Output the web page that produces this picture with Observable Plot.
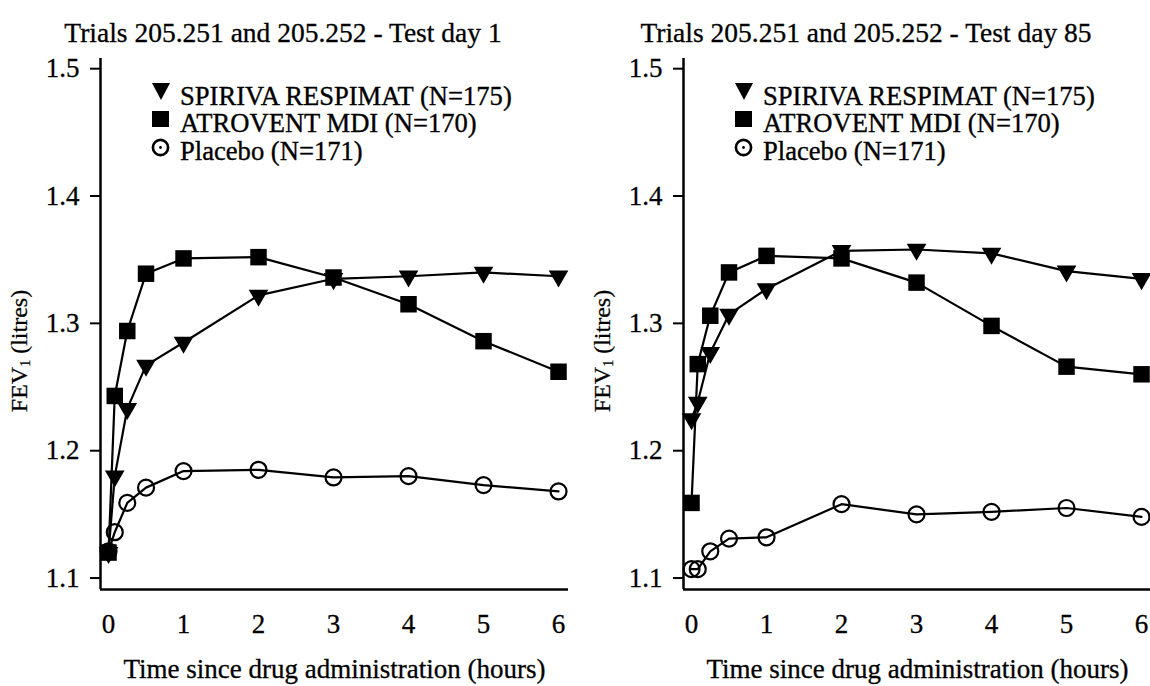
<!DOCTYPE html>
<html>
<head>
<meta charset="utf-8">
<script src="https://cdn.jsdelivr.net/npm/d3@7"></script>
<script src="https://cdn.jsdelivr.net/npm/@observablehq/plot@0.6"></script>
<style>
  html, body { margin: 0; padding: 0; background: #fff; }
  body { width: 1150px; height: 686px; overflow: hidden; position: relative;
         font-family: "Liberation Serif", "Times New Roman", serif; color: #000; }
  .panel { position: absolute; top: 0; width: 583px; height: 686px; }
  .title { position: absolute; top: 17px; left: 0; width: 566px; text-align: center;
           font-size: 27.5px; line-height: 32px; white-space: nowrap; -webkit-text-stroke: 0.3px #000; }
  .plot { position: absolute; top: 50px; left: 0; }
  .plot svg text { stroke: #000; stroke-width: 0.3px; }
  .ylab { position: absolute; left: 22px; top: 351px; transform: translate(-50%, -50%) rotate(-90deg);
          font-size: 24px; white-space: nowrap; line-height: 26px; -webkit-text-stroke: 0.25px #000; }
  .ylab sub { font-size: 14px; vertical-align: -3px; }
  .legrow { position: absolute; left: 150px; height: 24px; line-height: 24px; font-size: 26.6px; white-space: nowrap; -webkit-text-stroke: 0.35px #000; }
  .legrow svg { position: absolute; left: 0; top: -1px; }
  .legrow span { position: absolute; left: 30px; top: 0; line-height: 24px; }
</style>
</head>
<body>
<script>
// ---- data ----
const times = [0, 0.083, 0.25, 0.5, 1, 2, 3, 4, 5, 6];

const spirivaDay1  = [1.120, 1.180, 1.233, 1.267, 1.285, 1.322, 1.335, 1.337, 1.340, 1.337];
const atroventDay1 = [1.120, 1.243, 1.294, 1.339, 1.351, 1.352, 1.336, 1.315, 1.286, 1.262];
const placeboDay1  = [1.121, 1.136, 1.159, 1.171, 1.184, 1.185, 1.179, 1.180, 1.173, 1.168];

const spirivaDay85  = [1.225, 1.238, 1.277, 1.307, 1.327, 1.357, 1.358, 1.355, 1.341, 1.335];
const atroventDay85 = [1.159, 1.268, 1.306, 1.340, 1.353, 1.351, 1.332, 1.298, 1.266, 1.260];
const placeboDay85  = [1.107, 1.107, 1.121, 1.131, 1.132, 1.158, 1.150, 1.152, 1.155, 1.148];

const seriesNames = ["SPIRIVA RESPIMAT (N=175)", "ATROVENT MDI (N=170)", "Placebo (N=171)"];
const panelTitles = ["Trials 205.251 and 205.252 - Test day 1", "Trials 205.251 and 205.252 - Test day 85"];
const xTicks = [0, 1, 2, 3, 4, 5, 6];
const yTicks = [1.1, 1.2, 1.3, 1.4, 1.5];
const xLabel = "Time since drug administration (hours)";

const xDomain = [-0.107, 6.133];
const yDomain = [1.091, 1.508];

function rows(values) { return times.map((t, i) => ({t, v: values[i]})); }

function makePlot(spiriva, atrovent, placebo) {
  const S = rows(spiriva), A = rows(atrovent), P = rows(placebo);
  return Plot.plot({
    width: 583, height: 636,
    marginTop: 8, marginBottom: 97, marginLeft: 100, marginRight: 15,
    style: {fontFamily: "'Liberation Serif', 'Times New Roman', serif", fontSize: "27px", color: "black", background: "white", overflow: "visible"},
    x: {domain: xDomain, label: null},
    y: {domain: yDomain, label: null},
    marks: [
      Plot.axisY({ticks: yTicks, tickFormat: d => d.toFixed(1), tickSize: 10, tickPadding: 11, strokeWidth: 2, label: null, fontSize: 27}),
      Plot.axisX({ticks: xTicks, tickFormat: d => String(d), tickSize: 0, tickPadding: 24, fontSize: 27,
                  label: xLabel, labelAnchor: "center", labelOffset: 88, labelArrow: "none"}),
      Plot.ruleX([xDomain[0]], {stroke: "black", strokeWidth: 2.5}),
      Plot.ruleY([yDomain[0]], {stroke: "black", strokeWidth: 2.5}),
      Plot.line(P, {x: "t", y: "v", stroke: "black", strokeWidth: 2.2}),
      Plot.line(A, {x: "t", y: "v", stroke: "black", strokeWidth: 2.2}),
      Plot.line(S, {x: "t", y: "v", stroke: "black", strokeWidth: 2.2}),
      Plot.dot(P, {x: "t", y: "v", symbol: "circle", r: 8, fill: "none", stroke: "black", strokeWidth: 2.2}),
      Plot.dot(A, {x: "t", y: "v", symbol: "square", r: 9.3, fill: "black", stroke: "none"}),
      Plot.dot(S, {x: "t", y: "v", symbol: "triangle", rotate: 180, r: 7.3, fill: "black", stroke: "none"})
    ]
  });
}

const legendSymbols = [
  '<svg width="24" height="22"><polygon points="2,0 20,0 11,17" fill="black"/></svg>',
  '<svg width="24" height="22"><rect x="2" y="1" width="17" height="16" fill="black"/></svg>',
  '<svg width="24" height="22"><circle cx="10.5" cy="9.5" r="7.6" fill="none" stroke="black" stroke-width="2.6"/><circle cx="10.5" cy="9.5" r="1.4" fill="black"/></svg>'
];
const legendTops = [84, 111, 139];

const panelData = [
  [spirivaDay1, atroventDay1, placeboDay1],
  [spirivaDay85, atroventDay85, placeboDay85]
];

panelData.forEach((d, k) => {
  const panel = document.createElement("div");
  panel.className = "panel";
  panel.style.left = (k * 583) + "px";
  document.body.appendChild(panel);

  const title = document.createElement("div");
  title.className = "title";
  title.textContent = panelTitles[k];
  panel.appendChild(title);

  const holder = document.createElement("div");
  holder.className = "plot";
  holder.appendChild(makePlot(d[0], d[1], d[2]));
  panel.appendChild(holder);

  const ylab = document.createElement("div");
  ylab.className = "ylab";
  ylab.innerHTML = "FEV<sub>1</sub> (litres)";
  panel.appendChild(ylab);

  seriesNames.forEach((name, i) => {
    const row = document.createElement("div");
    row.className = "legrow";
    row.style.top = legendTops[i] + "px";
    row.innerHTML = legendSymbols[i] + "<span>" + name + "</span>";
    panel.appendChild(row);
  });
});
</script>
</body>
</html>
